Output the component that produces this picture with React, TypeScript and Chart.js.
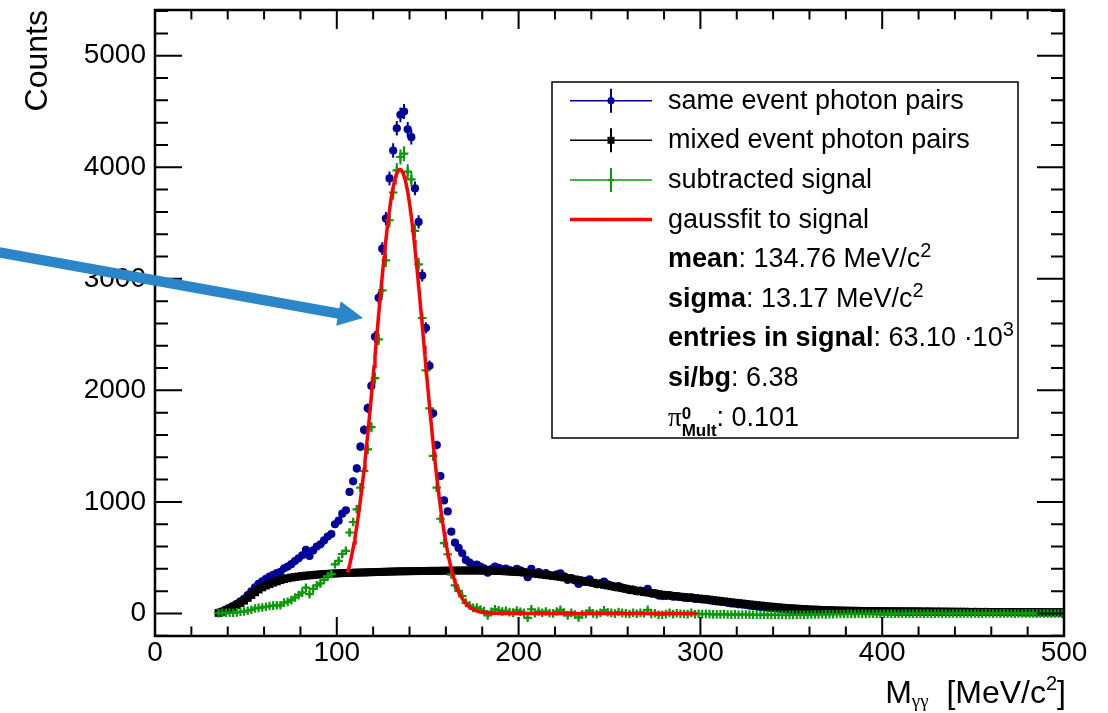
import React, { useEffect, useRef } from 'react';
import { Chart, registerables } from 'chart.js';

Chart.register(...registerables);

const FONT_SANS = '"Liberation Sans", Arial, Helvetica, sans-serif';
const FONT_SERIF = '"Liberation Serif", "DejaVu Serif", serif';

// Histogram binning: 2 MeV/c^2 bins, first bin centred at 35 MeV/c^2
const BIN_FIRST_CENTER = 35;
const BIN_WIDTH = 2;

// Same-event photon pair invariant mass counts per bin
const SAME_EVENT = [
  8, 20, 34, 50, 66, 86, 108, 132, 165, 198,
  235, 265, 288, 310, 330, 346, 362, 372, 405, 420,
  442, 470, 495, 522, 570, 515, 565, 600, 620, 655,
  690, 712, 800, 832, 895, 925, 1090, 1185, 1300, 1495,
  1645, 1840, 2040, 2480, 2830, 3270, 3540, 3900, 4150, 4350,
  4470, 4500, 4340, 4270, 3810, 3510, 3030, 2560, 2220, 1795,
  1510, 1232, 1013, 915, 733, 635, 588, 540, 480, 456,
  435, 437, 420, 405, 366, 398, 420, 410, 398, 402,
  388, 382, 399, 386, 372, 325, 399, 360, 370, 355,
  362, 345, 338, 350, 360, 332, 300, 318, 296, 264,
  285, 282, 306, 275, 262, 270, 285, 262, 250, 238,
  246, 232, 222, 210, 215, 200, 205, 195, 220, 178,
  180, 160, 156, 158, 165, 150, 155, 148, 142, 138,
  145, 130, 132, 125, 124, 118, 112, 108, 104, 102,
  95, 90, 88, 82, 80, 76, 70, 66, 62, 58,
  56, 52, 48, 46, 42, 40, 36, 34, 32, 30,
  30, 28, 26, 26, 25, 24, 24, 22, 22, 21,
  22, 21, 20, 21, 20, 19, 20, 19, 18, 19,
  18, 19, 18, 18, 17, 18, 17, 17, 16, 17,
  16, 16, 17, 16, 15, 16, 15, 15, 16, 15,
  15, 14, 15, 14, 14, 15, 14, 13, 14, 13,
  13, 14, 13, 12, 13, 12, 13, 12, 12, 11,
  12, 11, 12, 11, 11, 10, 11, 10, 11, 10,
  10, 10, 9,
];

// Mixed-event (combinatorial background) counts per bin, after normalisation
const MIXED_EVENT = [
  5, 15, 28, 44, 60, 76, 93, 115, 140, 165,
  190, 215, 234, 250, 263, 276, 288, 299, 308, 316,
  322, 327, 331, 335, 339, 342, 345, 348, 351, 353,
  355, 357, 359, 360, 362, 363, 364, 365, 366, 367,
  368, 369, 370, 371, 372, 373, 374, 375, 376, 377,
  378, 378, 379, 379, 380, 380, 381, 381, 382, 382,
  382, 383, 383, 384, 384, 384, 385, 385, 385, 385,
  385, 385, 385, 384, 384, 383, 382, 381, 380, 378,
  376, 374, 372, 370, 367, 364, 361, 357, 353, 349,
  345, 341, 337, 333, 328, 323, 317, 311, 305, 299,
  293, 287, 281, 275, 269, 263, 257, 251, 245, 239,
  233, 227, 221, 215, 209, 203, 198, 193, 188, 183,
  178, 173, 168, 164, 160, 156, 153, 150, 147, 144,
  140, 137, 134, 131, 128, 124, 120, 116, 112, 108,
  104, 100, 96, 93, 89, 85, 81, 78, 74, 71,
  67, 64, 61, 58, 55, 52, 49, 47, 45, 43,
  41, 39, 37, 35, 34, 33, 31, 30, 29, 28,
  27, 26, 25, 25, 24, 24, 23, 23, 22, 22,
  21, 21, 20, 20, 20, 19, 19, 19, 19, 18,
  18, 18, 18, 17, 17, 17, 17, 16, 16, 16,
  16, 16, 15, 15, 15, 15, 14, 14, 14, 14,
  14, 13, 13, 13, 13, 13, 12, 12, 12, 12,
  12, 11, 11, 11, 11, 11, 11, 10, 10, 10,
  10, 10, 10,
];

// Background-subtracted signal counts per bin
const SUBTRACTED = [
  3, 5, 6, 6, 6, 10, 15, 17, 25, 33,
  45, 50, 54, 60, 67, 70, 74, 73, 97, 104,
  120, 143, 164, 187, 231, 173, 220, 252, 269, 302,
  335, 355, 441, 472, 533, 562, 726, 820, 934, 1128,
  1277, 1471, 1670, 2109, 2458, 2896, 3166, 3525, 3774, 3973,
  4092, 4122, 3961, 3891, 3430, 3130, 2649, 2179, 1838, 1413,
  1128, 849, 630, 531, 349, 251, 203, 155, 95, 71,
  50, 52, 35, 21, -18, 15, 38, 29, 18, 24,
  12, 8, 27, 16, 5, -39, 38, 3, 17, 6,
  17, 4, 1, 17, 32, 9, -17, 7, -9, -35,
  -8, -5, 25, 0, -7, 7, 28, 11, 5, -1,
  13, 5, 1, -5, 6, -3, 7, 2, 32, -5,
  2, -13, -12, -6, 5, -6, 2, -2, -5, -6,
  5, -7, -2, -6, -4, -6, -8, -8, -8, -6,
  -9, -10, -8, -11, -9, -9, -11, -12, -12, -13,
  -11, -12, -13, -12, -13, -12, -13, -13, -13, -13,
  -11, -11, -11, -9, -9, -9, -7, -8, -7, -7,
  -5, -5, -5, -4, -4, -5, -3, -4, -4, -3,
  -3, -2, -2, -2, -3, -1, -2, -2, -3, -1,
  -2, -2, -1, -1, -2, -1, -2, -1, 0, -1,
  -1, -2, 0, -1, -1, 0, 0, -1, 0, -1,
  -1, 1, 0, -1, 0, -1, 1, 0, 0, -1,
  0, 0, 1, 0, 0, -1, 0, 0, 1, 0,
  0, 0, -1,
];

// Gaussian fit to the subtracted signal
const FIT_MEAN = 134.76;
const FIT_SIGMA = 13.17;
const FIT_AMPLITUDE = 3980;
const FIT_RANGE = [106, 298];
const FIT_STEP = 0.5;

// Signal summary numbers shown in the legend
const SIGNAL_ENTRIES_K = 63.1;
const SIGNAL_TO_BG = 6.38;
const PI0_MULT = 0.101;

// Axes
const X_RANGE = [0, 500];
const Y_RANGE = [-202, 5410];
const X_TICKS = [0, 100, 200, 300, 400, 500];
const Y_TICKS = [0, 1000, 2000, 3000, 4000, 5000];
const X_MINOR_STEP = 20;
const Y_MINOR_STEP = 200;

const COLORS = {
  same: '#000099',
  mixed: '#000000',
  sub: '#0a9a0a',
  fit: '#ff0000',
  arrow: '#2a86c8',
};

type Seg = { text: string; bold?: boolean; serif?: boolean; size?: number; dy?: number; advance?: boolean };

function segFont(s: Seg, base: number) {
  return `${s.bold ? 'bold ' : ''}${s.size ?? base}px ${s.serif ? FONT_SERIF : FONT_SANS}`;
}

function measureSegs(ctx: CanvasRenderingContext2D, segs: Seg[], base: number) {
  let w = 0;
  for (const s of segs) {
    ctx.font = segFont(s, base);
    if (s.advance !== false) w += ctx.measureText(s.text).width;
  }
  return w;
}

function drawSegs(ctx: CanvasRenderingContext2D, segs: Seg[], x: number, baseline: number, base: number) {
  let cx = x;
  ctx.textBaseline = 'alphabetic';
  ctx.textAlign = 'left';
  for (const s of segs) {
    ctx.font = segFont(s, base);
    ctx.fillText(s.text, cx, baseline + (s.dy ?? 0));
    if (s.advance !== false) cx += ctx.measureText(s.text).width;
  }
}

const binCenters = SAME_EVENT.map((_, i) => BIN_FIRST_CENTER + i * BIN_WIDTH);
const toPoints = (vals: number[]) => vals.map((v, i) => ({ x: binCenters[i], y: v }));

function fitCurve() {
  const pts: { x: number; y: number }[] = [];
  for (let x = FIT_RANGE[0]; x <= FIT_RANGE[1] + 1e-9; x += FIT_STEP) {
    const z = (x - FIT_MEAN) / FIT_SIGMA;
    pts.push({ x, y: FIT_AMPLITUDE * Math.exp(-0.5 * z * z) });
  }
  return pts;
}

// vertical statistical error bars (+ bin-width bars) under each histogram's markers
const errorBarsPlugin = {
  id: 'errorBars',
  beforeDatasetDraw(chart: any, args: any) {
    const ds = chart.data.datasets[args.index];
    if (!ds.errors) return;
    const { ctx, chartArea: a } = chart;
    const xs = chart.scales.x;
    const ys = chart.scales.y;
    ctx.save();
    ctx.beginPath();
    ctx.rect(a.left, a.top, a.right - a.left, a.bottom - a.top);
    ctx.clip();
    ctx.strokeStyle = ds.errorColor;
    ctx.lineWidth = ds.errorWidth;
    ctx.beginPath();
    ds.data.forEach((p: { x: number; y: number }, i: number) => {
      const e = ds.errors[i];
      const px = xs.getPixelForValue(p.x);
      const py = ys.getPixelForValue(p.y);
      ctx.moveTo(px, ys.getPixelForValue(p.y - e));
      ctx.lineTo(px, ys.getPixelForValue(p.y + e));
      if (ds.binHalfWidth) {
        ctx.moveTo(xs.getPixelForValue(p.x - ds.binHalfWidth), py);
        ctx.lineTo(xs.getPixelForValue(p.x + ds.binHalfWidth), py);
      }
    });
    ctx.stroke();
    ctx.restore();
  },
};

// ROOT-style frame with inward ticks on all four sides
const framePlugin = {
  id: 'rootFrame',
  afterDatasetsDraw(chart: any) {
    const { ctx, chartArea: a } = chart;
    const xs = chart.scales.x;
    const ys = chart.scales.y;
    ctx.save();
    ctx.strokeStyle = '#000';
    ctx.lineWidth = 2;
    ctx.beginPath();
    for (let v = X_RANGE[0]; v <= X_RANGE[1]; v += X_MINOR_STEP) {
      const px = xs.getPixelForValue(v);
      const len = v % 100 === 0 ? 19 : 9.5;
      ctx.moveTo(px, a.bottom);
      ctx.lineTo(px, a.bottom - len);
      ctx.moveTo(px, a.top);
      ctx.lineTo(px, a.top + len);
    }
    for (let v = -200; v <= Y_RANGE[1]; v += Y_MINOR_STEP) {
      const py = ys.getPixelForValue(v);
      const len = v % 1000 === 0 ? 27 : 13;
      ctx.moveTo(a.left, py);
      ctx.lineTo(a.left + len, py);
      ctx.moveTo(a.right, py);
      ctx.lineTo(a.right - len, py);
    }
    ctx.stroke();
    ctx.lineWidth = 2.5;
    ctx.strokeRect(a.left, a.top, a.right - a.left, a.bottom - a.top);
    ctx.restore();
  },
};

// Axis titles, legend box with fit summary, and the pointer arrow
const overlayPlugin = {
  id: 'overlay',
  afterDraw(chart: any) {
    const { ctx, chartArea: a } = chart;
    ctx.save();
    ctx.fillStyle = '#000';

    // y title
    ctx.save();
    ctx.translate(38, a.top);
    ctx.rotate(-Math.PI / 2);
    ctx.font = `32px ${FONT_SANS}`;
    ctx.textAlign = 'right';
    ctx.textBaseline = 'middle';
    ctx.fillText('Counts', 0, 0);
    ctx.restore();

    // x title
    const xTitle: Seg[] = [
      { text: 'M' },
      { text: 'γγ', serif: true, size: 19, dy: 4 },
      { text: '  [MeV/c' },
      { text: '2', size: 20, dy: -13 },
      { text: ']' },
    ];
    const xw = measureSegs(ctx, xTitle, 32);
    drawSegs(ctx, xTitle, a.right + 2 - xw, 703, 32);

    // legend
    const box = { x: 552, y: 82, w: 466, h: 356 };
    ctx.fillStyle = '#fff';
    ctx.fillRect(box.x, box.y, box.w, box.h);
    ctx.strokeStyle = '#000';
    ctx.lineWidth = 1.5;
    ctx.strokeRect(box.x, box.y, box.w, box.h);

    const base = (k: number) => 108.7 + 39.6 * k;
    const symL = 570;
    const symR = 652;
    const symC = 611;
    const textX = 668;
    const size = 27;

    const sampleLine = (k: number, color: string, width: number) => {
      const y = base(k) - 8;
      ctx.strokeStyle = color;
      ctx.lineWidth = width;
      ctx.beginPath();
      ctx.moveTo(symL, y);
      ctx.lineTo(symR, y);
      ctx.stroke();
      return y;
    };
    const sampleBar = (y: number, color: string) => {
      ctx.strokeStyle = color;
      ctx.lineWidth = 2;
      ctx.beginPath();
      ctx.moveTo(symC, y - 12);
      ctx.lineTo(symC, y + 12);
      ctx.stroke();
    };

    let y = sampleLine(0, COLORS.same, 1.5);
    sampleBar(y, COLORS.same);
    ctx.fillStyle = COLORS.same;
    ctx.beginPath();
    ctx.arc(symC, y, 3.6, 0, Math.PI * 2);
    ctx.fill();

    y = sampleLine(1, COLORS.mixed, 1.5);
    sampleBar(y, COLORS.mixed);
    ctx.fillStyle = COLORS.mixed;
    ctx.fillRect(symC - 3.5, y - 3.5, 7, 7);

    y = sampleLine(2, COLORS.sub, 1.5);
    sampleBar(y, COLORS.sub);
    ctx.beginPath();
    ctx.moveTo(symC - 3, y);
    ctx.lineTo(symC + 3, y);
    ctx.stroke();

    sampleLine(3, COLORS.fit, 3.5);

    ctx.fillStyle = '#000';
    const rows: Seg[][] = [
      [{ text: 'same event photon pairs' }],
      [{ text: 'mixed event photon pairs' }],
      [{ text: 'subtracted signal' }],
      [{ text: 'gaussfit to signal' }],
      [{ text: 'mean', bold: true }, { text: `: ${FIT_MEAN.toFixed(2)} MeV/c` }, { text: '2', size: 20, dy: -10 }],
      [{ text: 'sigma', bold: true }, { text: `: ${FIT_SIGMA.toFixed(2)} MeV/c` }, { text: '2', size: 20, dy: -10 }],
      [{ text: 'entries in signal', bold: true }, { text: `: ${SIGNAL_ENTRIES_K.toFixed(2)} ·10` }, { text: '3', size: 20, dy: -10 }],
      [{ text: 'si/bg', bold: true }, { text: `: ${SIGNAL_TO_BG.toFixed(2)}` }],
      [
        { text: 'π', serif: true },
        { text: '0', bold: true, size: 17, dy: -7, advance: false },
        { text: 'Mult', bold: true, size: 17, dy: 10 },
        { text: `: ${PI0_MULT.toFixed(3)}` },
      ],
    ];
    rows.forEach((segs, k) => drawSegs(ctx, segs, textX, base(k), size));

    // pointer arrow
    const tail = { x: -6, y: 251.4 };
    const tip = { x: 363, y: 318 };
    const ang = Math.atan2(tip.y - tail.y, tip.x - tail.x);
    const c = Math.cos(ang);
    const s = Math.sin(ang);
    const headLen = 25;
    const headHalf = 12.5;
    const bx = tip.x - headLen * c;
    const by = tip.y - headLen * s;
    ctx.strokeStyle = COLORS.arrow;
    ctx.fillStyle = COLORS.arrow;
    ctx.lineWidth = 10.5;
    ctx.lineCap = 'butt';
    ctx.beginPath();
    ctx.moveTo(tail.x, tail.y);
    ctx.lineTo(bx + 2 * c, by + 2 * s);
    ctx.stroke();
    ctx.beginPath();
    ctx.moveTo(tip.x, tip.y);
    ctx.lineTo(bx - headHalf * s, by + headHalf * c);
    ctx.lineTo(bx + headHalf * s, by - headHalf * c);
    ctx.closePath();
    ctx.fill();

    ctx.restore();
  },
};

function buildConfig() {
  const sameErr = SAME_EVENT.map((v) => Math.sqrt(Math.max(v, 0)));
  const mixedErr = MIXED_EVENT.map((v) => Math.sqrt(Math.max(v, 0)) * 0.3);
  const subErr = SAME_EVENT.map((v, i) => Math.sqrt(Math.max(v, 0) + Math.max(MIXED_EVENT[i], 0) * 0.1));

  return {
    type: 'scatter',
    data: {
      datasets: [
        {
          label: 'same event photon pairs',
          data: toPoints(SAME_EVENT),
          order: 4,
          showLine: false,
          pointStyle: 'circle',
          pointRadius: 4.1,
          pointHoverRadius: 0,
          pointBackgroundColor: COLORS.same,
          pointBorderWidth: 0,
          borderColor: COLORS.same,
          errors: sameErr,
          errorColor: COLORS.same,
          errorWidth: 2,
        },
        {
          label: 'mixed event photon pairs',
          data: toPoints(MIXED_EVENT),
          order: 3,
          showLine: false,
          pointStyle: 'rect',
          pointRadius: 5.6,
          pointHoverRadius: 0,
          pointBackgroundColor: COLORS.mixed,
          pointBorderWidth: 0,
          borderColor: COLORS.mixed,
          errors: mixedErr,
          errorColor: COLORS.mixed,
          errorWidth: 2,
        },
        {
          label: 'subtracted signal',
          data: toPoints(SUBTRACTED),
          order: 2,
          showLine: false,
          pointStyle: 'cross',
          pointRadius: 4.3,
          pointHoverRadius: 0,
          pointBorderColor: COLORS.sub,
          pointBorderWidth: 2.2,
          borderColor: COLORS.sub,
          errors: subErr,
          errorColor: COLORS.sub,
          errorWidth: 2,
          binHalfWidth: BIN_WIDTH / 2,
        },
        {
          label: 'gaussfit to signal',
          data: fitCurve(),
          order: 1,
          showLine: true,
          pointRadius: 0,
          pointHoverRadius: 0,
          borderColor: COLORS.fit,
          borderWidth: 3.5,
          tension: 0,
        },
      ],
    },
    options: {
      responsive: false,
      animation: false,
      events: [],
      layout: { padding: { top: 10, right: 44, left: 0, bottom: 0 } },
      plugins: {
        legend: { display: false },
        tooltip: { enabled: false },
        title: { display: false },
      },
      scales: {
        x: {
          type: 'linear',
          position: 'bottom',
          min: X_RANGE[0],
          max: X_RANGE[1],
          afterBuildTicks: (s: any) => {
            s.ticks = X_TICKS.map((v) => ({ value: v }));
          },
          afterFit: (s: any) => {
            s.height = 77;
            s.paddingLeft = 0;
            s.paddingRight = 0;
          },
          ticks: {
            font: { family: FONT_SANS, size: 28 },
            color: '#000',
            padding: 0,
            maxRotation: 0,
            autoSkip: false,
            callback: (v: number) => String(v),
          },
          grid: { display: false, drawTicks: false },
          border: { display: false },
        },
        y: {
          type: 'linear',
          position: 'left',
          min: Y_RANGE[0],
          max: Y_RANGE[1],
          afterBuildTicks: (s: any) => {
            s.ticks = Y_TICKS.map((v) => ({ value: v }));
          },
          afterFit: (s: any) => {
            s.width = 155;
            s.paddingTop = 0;
            s.paddingBottom = 0;
          },
          ticks: {
            font: { family: FONT_SANS, size: 28 },
            color: '#000',
            padding: 9,
            autoSkip: false,
            callback: (v: number) => String(v),
          },
          grid: { display: false, drawTicks: false },
          border: { display: false },
        },
      },
    },
    plugins: [errorBarsPlugin, framePlugin, overlayPlugin],
  };
}

export default function App() {
  const canvasRef = useRef<HTMLCanvasElement>(null);

  useEffect(() => {
    if (!canvasRef.current) return;
    Chart.defaults.font.family = FONT_SANS;
    const chart = new Chart(canvasRef.current, buildConfig() as any);
    return () => chart.destroy();
  }, []);

  return (
    <div style={{ position: 'fixed', left: 0, top: 0, width: 1108, height: 713, background: '#fff' }}>
      <canvas ref={canvasRef} width={1108} height={713} style={{ display: 'block', width: 1108, height: 713 }} />
    </div>
  );
}
